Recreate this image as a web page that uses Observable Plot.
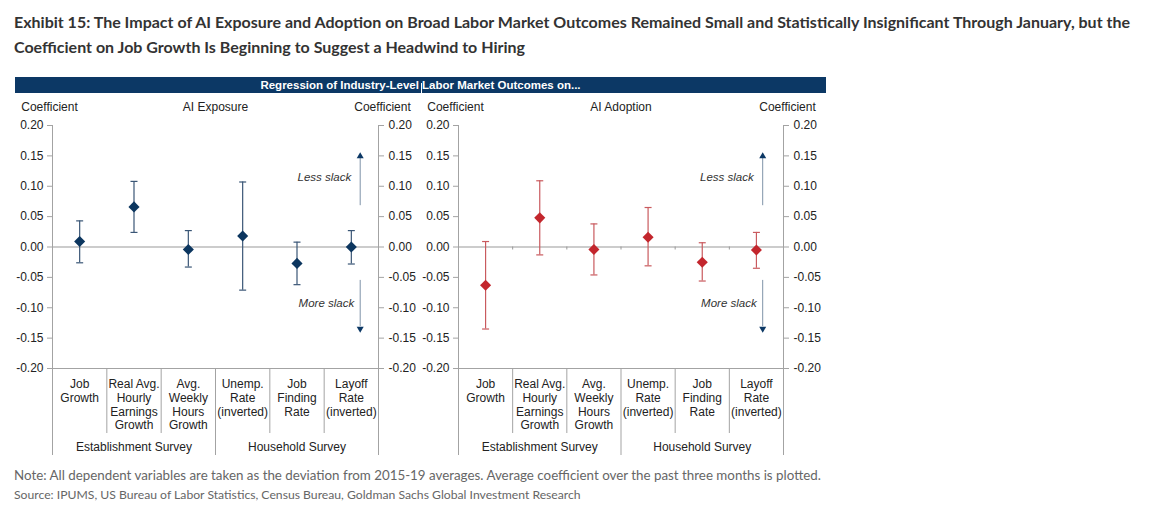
<!DOCTYPE html>
<html>
<head>
<meta charset="utf-8">
<script src="https://cdn.jsdelivr.net/npm/d3@7"></script>
<script src="https://cdn.jsdelivr.net/npm/@observablehq/plot@0.6"></script>
<style>
  html, body { margin: 0; padding: 0; background: #fff; }
  body { width: 1156px; height: 508px; position: relative; overflow: hidden; font-family: "Liberation Sans", Arial, sans-serif; }
  #title { position: absolute; left: 14px; top: 9px; width: 1140px; font-family: Lato, sans-serif; font-weight: 700; font-size: 16px; line-height: 25px; color: #333; }
  #bar { position: absolute; left: 15px; top: 77px; width: 811px; height: 16px; background: #0c3865; color: #fff; font-weight: 700; font-size: 11.5px; line-height: 16px; text-align: center; }
  #bar .sep { position: absolute; left: 406px; top: 6px; width: 1px; height: 10px; background: #fff; }
  #left { position: absolute; left: 0px; top: 95px; }
  #right { position: absolute; left: 406px; top: 95px; }
  #note { position: absolute; left: 14px; top: 466px; font-family: Lato, sans-serif; font-size: 13.35px; line-height: 18px; color: #666; white-space: nowrap; }
  #source { position: absolute; left: 14px; top: 487px; font-family: Lato, sans-serif; font-size: 12.2px; line-height: 16px; color: #666; white-space: nowrap; }
</style>
</head>
<body>
<div id="title">Exhibit 15: The Impact of AI Exposure and Adoption on Broad Labor Market Outcomes Remained Small and Statistically Insignificant Through January, but the Coefficient on Job Growth Is Beginning to Suggest a Headwind to Hiring</div>
<div id="bar">Regression of Industry-Level Labor Market Outcomes on...<div class="sep"></div></div>
<div id="left"></div>
<div id="right"></div>
<div id="note">Note: All dependent variables are taken as the deviation from 2015-19 averages. Average coefficient over the past three months is plotted.</div>
<div id="source">Source: IPUMS, US Bureau of Labor Statistics, Census Bureau, Goldman Sachs Global Investment Research</div>
<script>
// ---- data ----
const categories = ["Job\nGrowth", "Real Avg.\nHourly\nEarnings\nGrowth", "Avg.\nWeekly\nHours\nGrowth", "Unemp.\nRate\n(inverted)", "Job\nFinding\nRate", "Layoff\nRate\n(inverted)"];
const groups = ["Establishment Survey", "Household Survey"];
const yTicks = [-0.20, -0.15, -0.10, -0.05, 0.00, 0.05, 0.10, 0.15, 0.20];

const exposureCoef = [0.009, 0.066, -0.004, 0.018, -0.027, 0.000];
const exposureLow  = [-0.026, 0.024, -0.033, -0.071, -0.062, -0.028];
const exposureHigh = [0.043, 0.108, 0.027, 0.107, 0.008, 0.027];

const adoptionCoef = [-0.063, 0.048, -0.004, 0.016, -0.025, -0.005];
const adoptionLow  = [-0.135, -0.013, -0.046, -0.031, -0.056, -0.035];
const adoptionHigh = [0.009, 0.109, 0.038, 0.065, 0.007, 0.024];

// annotation arrows (data units)
const upShaft = [0.068, 0.147], upTip = 0.156, lessSlackY = 0.115;
const downShaft = [-0.055, -0.131], downTip = -0.141, moreSlackY = -0.093;

// ---- layout ----
const W = 420, H = 370, mT = 30, mB = 97, mL = 52;
const yDomain = [-0.2, 0.2];
const innerH = H - mT - mB;
const perPx = (yDomain[1] - yDomain[0]) / innerH;
const below = p => yDomain[0] - p * perPx;
const axisColor = "#a3a3a3";
const textColor = "#222";

const capSymbol = { draw(ctx) { ctx.moveTo(-3.5, 0); ctx.lineTo(3.5, 0); } };
const upHead = { draw(ctx) { ctx.moveTo(0, 0); ctx.lineTo(3.5, 6); ctx.lineTo(-3.5, 6); ctx.closePath(); } };
const downHead = { draw(ctx) { ctx.moveTo(0, 0); ctx.lineTo(3.5, -6); ctx.lineTo(-3.5, -6); ctx.closePath(); } };

function panel({ coef, low, high, title, color, barColor, arrowX, zeroTicks, mR }) {
  const rows = categories.map((c, i) => ({ pos: i + 0.5, label: c, coef: coef[i], low: low[i], high: high[i] }));
  const groupRows = groups.map((g, i) => ({ pos: i * 3 + 1.5, label: g }));
  const arrowRow = [{ x: arrowX }];
  const fmt = d => d.toFixed(2);
  const marks = [
    Plot.ruleY([0], { stroke: "#999" }),
    Plot.ruleY([yDomain[0]], { stroke: axisColor }),
    Plot.ruleX([0, 6], { y1: yDomain[1], y2: below(87), stroke: axisColor }),
    Plot.ruleX([3], { y1: yDomain[0], y2: below(87), stroke: axisColor }),
    Plot.ruleX([1, 2, 4, 5], { y1: yDomain[0], y2: below(65), stroke: axisColor }),
    Plot.axisY({ ticks: yTicks, anchor: "left", tickFormat: fmt, tickSize: 5, tickPadding: 4, stroke: axisColor, fill: textColor, label: null }),
    Plot.axisY({ ticks: yTicks, anchor: "right", tickFormat: fmt, tickSize: 5, tickPadding: 5, stroke: axisColor, fill: textColor, label: null }),
    Plot.text(["Coefficient"], { x: () => 0, frameAnchor: "top", dy: -23, dx: -3, fill: textColor }),
    Plot.text(["Coefficient"], { x: () => 6, frameAnchor: "top", dy: -23, dx: 4, fill: textColor }),
    Plot.text([title], { x: () => 3, frameAnchor: "top", dy: -23, fill: textColor }),
    Plot.text(rows, { x: "pos", y: () => yDomain[0], text: "label", lineAnchor: "top", dy: 10, lineHeight: 1.14, fill: textColor }),
    Plot.text(groupRows, { x: "pos", y: () => yDomain[0], text: "label", dy: 79, fill: textColor }),
    // arrows
    Plot.ruleX(arrowRow, { x: "x", y1: upShaft[0], y2: upShaft[1], stroke: "#7f93a8" }),
    Plot.ruleX(arrowRow, { x: "x", y1: downShaft[0], y2: downShaft[1], stroke: "#7f93a8" }),
    Plot.dot(arrowRow, { x: "x", y: () => upTip, symbol: upHead, fill: "#0c3865", stroke: null }),
    Plot.dot(arrowRow, { x: "x", y: () => downTip, symbol: downHead, fill: "#0c3865", stroke: null }),
    Plot.text(arrowRow, { x: "x", y: () => lessSlackY, text: () => "Less slack", textAnchor: "end", dx: -9, fontStyle: "italic", fontSize: 11.5, fill: "#333" }),
    Plot.text(arrowRow, { x: "x", y: () => moreSlackY, text: () => "More slack", textAnchor: "end", dx: -6, fontStyle: "italic", fontSize: 11.5, fill: "#333" }),
    // error bars
    Plot.ruleX(rows, { x: "pos", y1: "low", y2: "high", stroke: barColor, strokeWidth: 1.2 }),
    Plot.dot(rows, { x: "pos", y: "high", symbol: capSymbol, stroke: barColor, fill: "none", strokeWidth: 1.2 }),
    Plot.dot(rows, { x: "pos", y: "low", symbol: capSymbol, stroke: barColor, fill: "none", strokeWidth: 1.2 }),
    Plot.dot(rows, { x: "pos", y: "coef", symbol: "diamond2", r: 5, fill: color, stroke: null })
  ];
  if (zeroTicks) marks.splice(1, 0, Plot.ruleX([1, 2, 3, 4, 5], { y1: 0, y2: -3 * perPx, stroke: "#999" }));
  return Plot.plot({
    width: W, height: H,
    marginTop: mT, marginBottom: mB, marginLeft: mL, marginRight: mR,
    x: { domain: [0, 6], axis: null },
    y: { domain: yDomain, axis: null },
    style: { fontFamily: "'Liberation Sans', Arial, sans-serif", fontSize: "12px", color: textColor, background: "transparent", overflow: "visible" },
    marks
  });
}

document.getElementById("left").appendChild(panel({
  coef: exposureCoef, low: exposureLow, high: exposureHigh, title: "AI Exposure",
  color: "#0c365f", barColor: "#3a5676", arrowX: 5.663, zeroTicks: false, mR: 42
}));
document.getElementById("right").appendChild(panel({
  coef: adoptionCoef, low: adoptionLow, high: adoptionHigh, title: "AI Adoption",
  color: "#c3262d", barColor: "#c95a5e", arrowX: 5.616, zeroTicks: true, mR: 43
}));
</script>
</body>
</html>
